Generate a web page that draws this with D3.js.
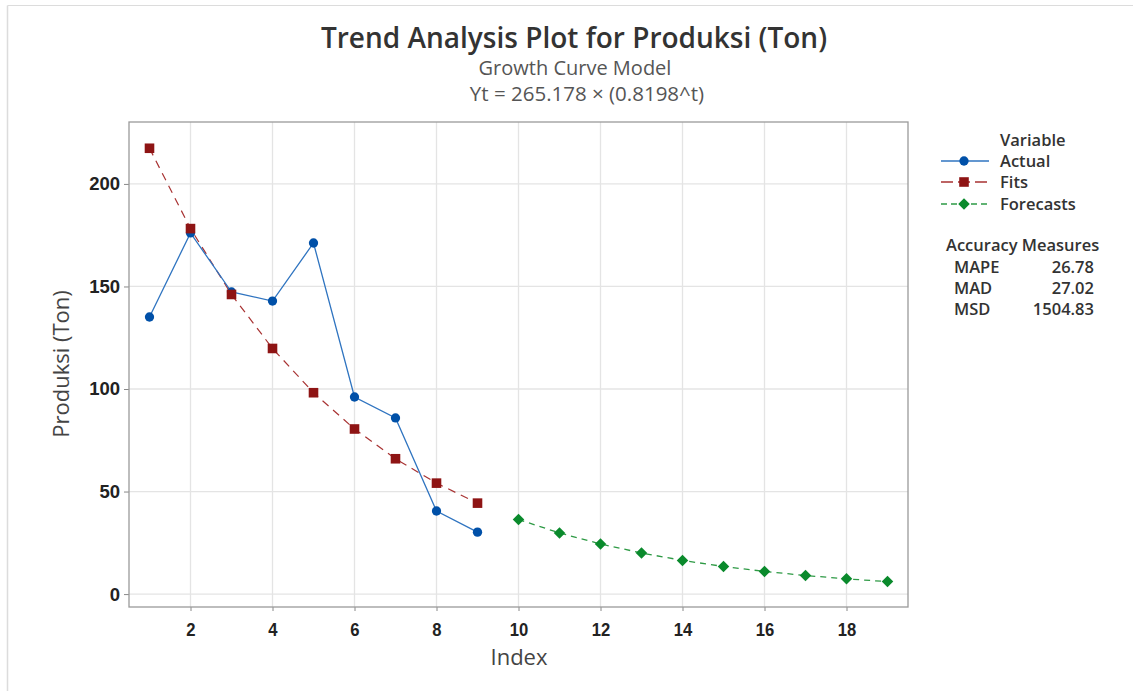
<!DOCTYPE html>
<html><head><meta charset="utf-8">
<script src="https://cdn.jsdelivr.net/npm/d3@7"></script>
<style>
html,body{margin:0;padding:0;background:#fff;}
svg{display:block;font-family:"Open Sans","Noto Sans",sans-serif;}
</style></head>
<body>
<svg id="chart" width="1133" height="691"></svg>
<script>
const actualIndex = [1,2,3,4,5,6,7,8,9];
const actualValues = [135.1, 176.1, 147.3, 142.9, 171.2, 96.1, 85.9, 40.5, 30.2];
const fitsIndex = [1,2,3,4,5,6,7,8,9];
const fitsValues = [217.39, 178.22, 146.10, 119.77, 98.19, 80.50, 65.99, 54.10, 44.35];
const forecastIndex = [10,11,12,13,14,15,16,17,18,19];
const forecastValues = [36.36, 29.81, 24.44, 20.03, 16.42, 13.46, 11.04, 9.05, 7.42, 6.08];
const xTicks = [2,4,6,8,10,12,14,16,18];
const yTicks = [0,50,100,150,200];
const legendNames = ["Actual","Fits","Forecasts"];
const accuracyNames = ["MAPE","MAD","MSD"];
const accuracyValues = ["26.78","27.02","1504.83"];

const svg = d3.select("#chart");
const L = 129, R = 908, T = 122, B = 607;
const x = d3.scaleLinear().domain([0.5, 19.5]).range([L, R]);
const y = d3.scaleLinear().domain([-6.3, 230.2]).range([B, T]);

const C = {actualLine:"#2f74c0", actual:"#0050a8", fitsLine:"#a83232", fits:"#8e1414", fcLine:"#2e9a45", fc:"#0a8a2c"};

// outer frame lines
svg.append("line").attr("x1",7.5).attr("x2",1133).attr("y1",5.5).attr("y2",5.5).attr("stroke","#dcdcdc");
svg.append("line").attr("x1",7.5).attr("x2",7.5).attr("y1",5.5).attr("y2",691).attr("stroke","#dcdcdc").attr("stroke-width",1.5);

// grid
const g = svg.append("g");
g.selectAll(".gx").data(xTicks).enter().append("line")
 .attr("x1",d=>x(d)).attr("x2",d=>x(d)).attr("y1",T).attr("y2",B)
 .attr("stroke","#e4e4e4").attr("stroke-width",1.3);
g.selectAll(".gy").data(yTicks).enter().append("line")
 .attr("x1",L).attr("x2",R).attr("y1",d=>y(d)).attr("y2",d=>y(d))
 .attr("stroke","#e4e4e4").attr("stroke-width",1.3);

// axes
const xAxis = d3.axisBottom(x).tickValues(xTicks).tickSize(4).tickPadding(12);
const yAxis = d3.axisLeft(y).tickValues(yTicks).tickSize(5).tickPadding(4);
const gx = svg.append("g").attr("transform",`translate(0,${B})`).call(xAxis);
const gy = svg.append("g").attr("transform",`translate(${L},0)`).call(yAxis);
[gx,gy].forEach(a=>{
  a.select(".domain").remove();
  a.selectAll(".tick line").attr("stroke","#888");
  a.selectAll(".tick text").attr("fill","#222").style("font-weight","600");
});
gy.selectAll(".tick text").style("font-size","18.5px");
gx.selectAll(".tick text").style("font-size","18.5px").attr("transform","scale(0.9,1)");

// plot frame
svg.append("rect").attr("x",L).attr("y",T).attr("width",R-L).attr("height",B-T)
 .attr("fill","none").attr("stroke","#9a9a9a").attr("stroke-width",1.3);

const line = d3.line().x(d=>x(d[0])).y(d=>y(d[1]));
const actual = actualIndex.map((d,i)=>[d,actualValues[i]]);
const fits = fitsIndex.map((d,i)=>[d,fitsValues[i]]);
const fc = forecastIndex.map((d,i)=>[d,forecastValues[i]]);

svg.append("path").datum(fits).attr("d",line).attr("fill","none")
 .attr("stroke",C.fitsLine).attr("stroke-width",1.2).attr("stroke-dasharray","8,6");
svg.append("path").datum(actual).attr("d",line).attr("fill","none")
 .attr("stroke",C.actualLine).attr("stroke-width",1.3);
svg.append("path").datum(fc).attr("d",line).attr("fill","none")
 .attr("stroke",C.fcLine).attr("stroke-width",1.3).attr("stroke-dasharray","6,5");

const sq = d3.symbol().type(d3.symbolSquare).size(92);
const ci = d3.symbol().type(d3.symbolCircle).size(68);
const di = d3.symbol().type(d3.symbolSquare).size(66);

svg.selectAll(".ma").data(actual).enter().append("path").attr("d",ci)
 .attr("transform",d=>`translate(${x(d[0])},${y(d[1])})`).attr("fill",C.actual);
svg.selectAll(".mf").data(fits).enter().append("path").attr("d",sq)
 .attr("transform",d=>`translate(${x(d[0])},${y(d[1])})`).attr("fill",C.fits);
svg.selectAll(".mc").data(fc).enter().append("path").attr("d",di)
 .attr("transform",d=>`translate(${x(d[0])},${y(d[1])}) rotate(45)`).attr("fill",C.fc);

// titles
svg.append("text").attr("x",574).attr("y",48).attr("text-anchor","middle")
 .style("font-size","28px").style("font-weight","600").attr("fill","#333").text("Trend Analysis Plot for Produksi (Ton)");
svg.append("text").attr("x",575).attr("y",75).attr("text-anchor","middle")
 .style("font-size","20px").attr("fill","#555").text("Growth Curve Model");
svg.append("text").attr("x",587).attr("y",101).attr("text-anchor","middle")
 .style("font-size","20.5px").attr("fill","#555").text("Yt = 265.178 × (0.8198^t)");

svg.append("text").attr("x",519).attr("y",665).attr("text-anchor","middle")
 .style("font-size","22px").attr("fill","#444").text("Index");
svg.append("text").attr("transform","translate(69,364) rotate(-90)").attr("text-anchor","middle")
 .style("font-size","22px").attr("fill","#444").text("Produksi (Ton)");

// legend
const lg = svg.append("g");
const fs = "16.5px";
lg.append("text").attr("x",1000).attr("y",146).style("font-size",fs).style("font-weight","600").attr("fill","#333").text("Variable");
const rows = [
 {y:161, line:C.actualLine, dash:null, sym:ci, fill:C.actual, rot:0},
 {y:182, line:C.fitsLine, dash:"12,5", sym:sq, fill:C.fits, rot:0},
 {y:204, line:C.fcLine, dash:"6,4", sym:di, fill:C.fc, rot:45}
];
rows.forEach((r,i)=>{
  const l = lg.append("line").attr("x1",941).attr("x2",989).attr("y1",r.y).attr("y2",r.y)
   .attr("stroke",r.line).attr("stroke-width",1.3);
  if(r.dash) l.attr("stroke-dasharray",r.dash);
  lg.append("path").attr("d",r.sym).attr("transform",`translate(964,${r.y}) rotate(${r.rot})`).attr("fill",r.fill);
  lg.append("text").attr("x",1000).attr("y",r.y+6).style("font-size",fs).style("font-weight","600").attr("fill","#333").text(legendNames[i]);
});
lg.append("text").attr("x",946).attr("y",251).style("font-size",fs).style("font-weight","600").attr("fill","#333").text("Accuracy Measures");
accuracyNames.forEach((n,i)=>{
  const yy = 273 + i*21;
  lg.append("text").attr("x",954).attr("y",yy).style("font-size",fs).style("font-weight","600").attr("fill","#333").text(n);
  lg.append("text").attr("x",1094).attr("y",yy).attr("text-anchor","end").style("font-size",fs).style("font-weight","600").attr("fill","#333").text(accuracyValues[i]);
});
</script>
</body></html>
